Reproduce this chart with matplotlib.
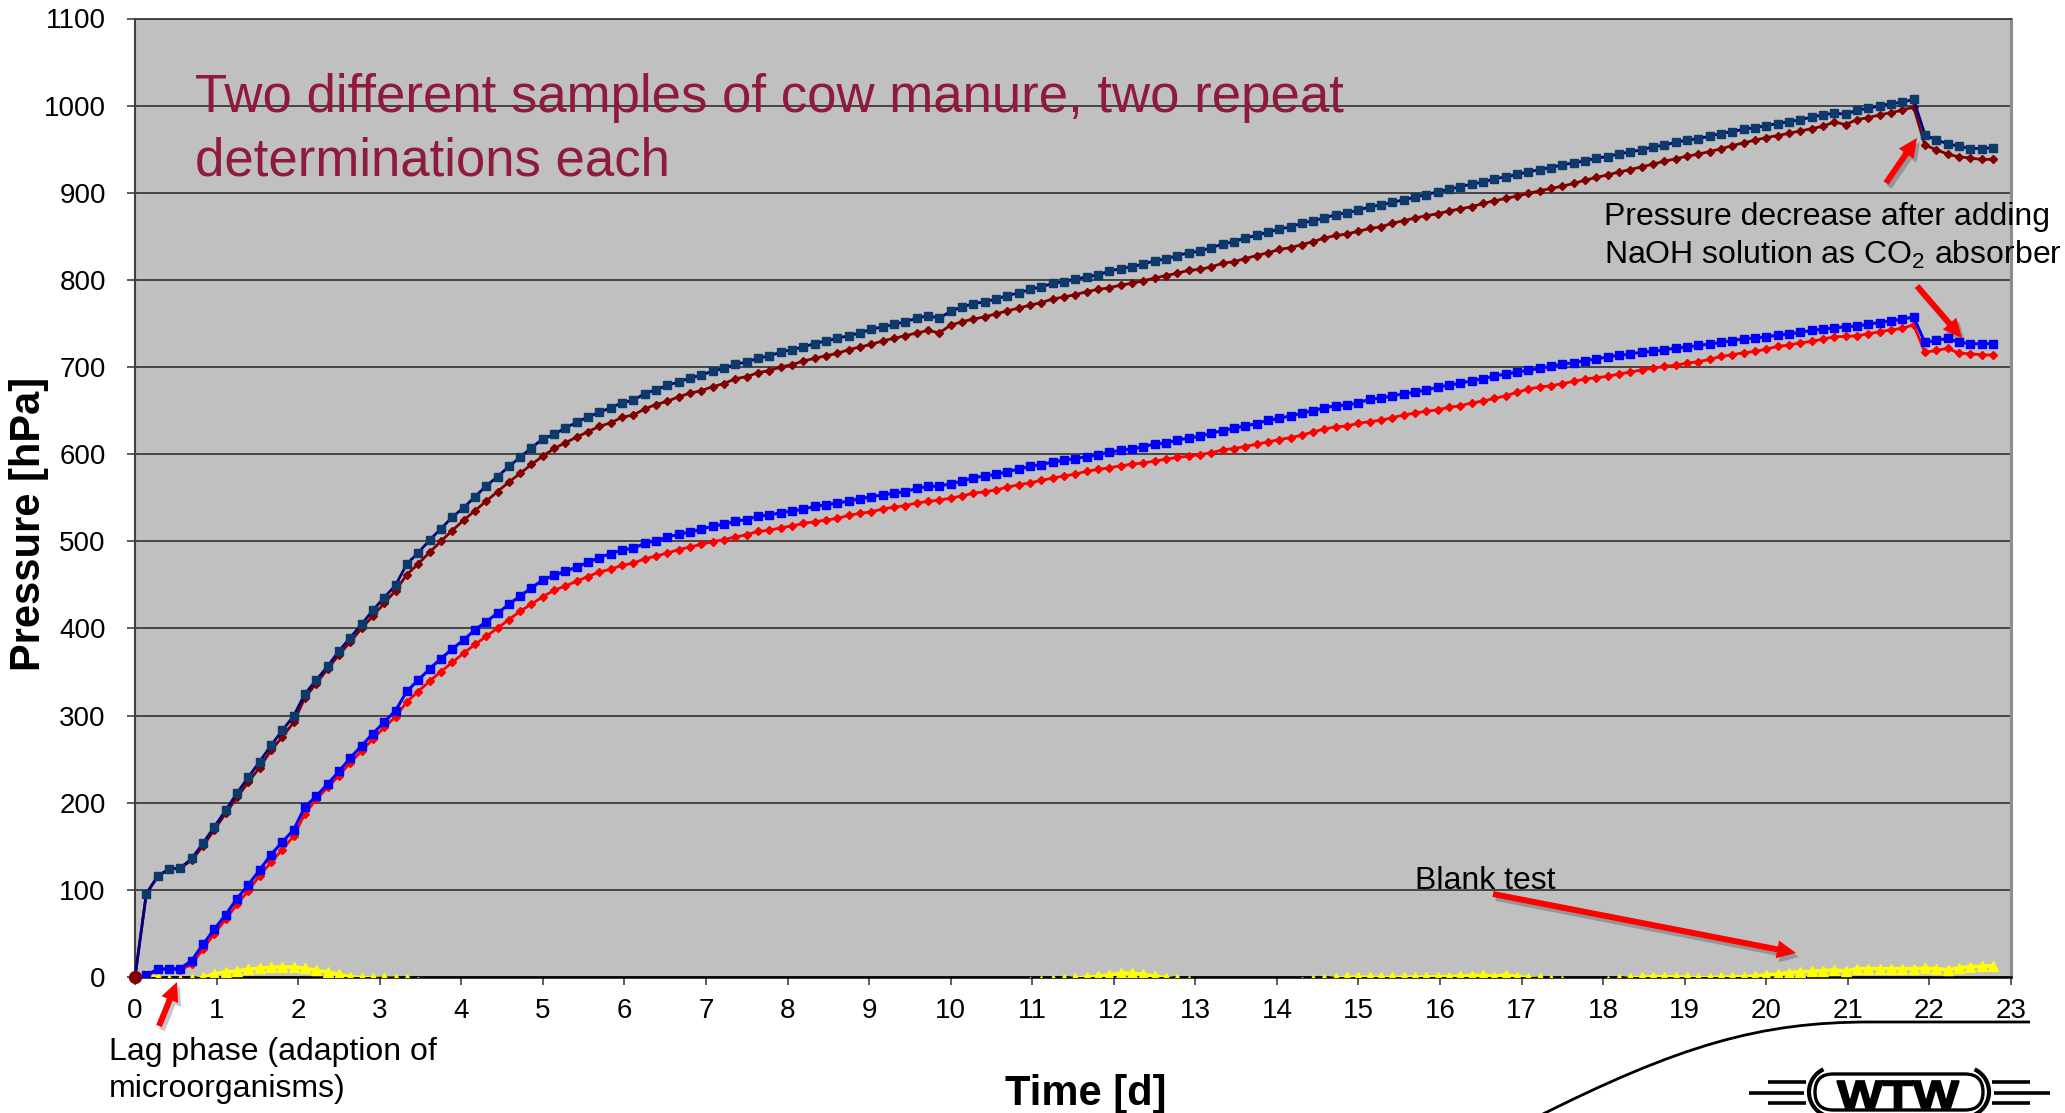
import numpy as np
import matplotlib
matplotlib.use('Agg')
import matplotlib.pyplot as plt
from matplotlib.patches import FancyArrow, FancyBboxPatch, Arc, PathPatch
from matplotlib.path import Path
from matplotlib.textpath import TextPath
from matplotlib.font_manager import FontProperties
from matplotlib.transforms import Affine2D

plt.rcParams['font.family'] = ['Liberation Sans', 'DejaVu Sans']
plt.rcParams['mathtext.fontset'] = 'custom'
plt.rcParams['mathtext.rm'] = 'Liberation Sans'
plt.rcParams['mathtext.it'] = 'Liberation Sans:italic'
plt.rcParams['mathtext.bf'] = 'Liberation Sans:bold'

# ---------------- data ----------------
readings_per_day = 7.2  # one reading every 3 h 20 min

# sample 1, determination 1 (navy squares)
sample1_rep1 = [
    0, 95.6, 115.4, 124.1, 125, 136, 153.5, 172.4, 191.2, 211, 229.4, 247, 265.8, 282.9, 299.6,
    325, 340.8, 356.6, 374.1, 389.5, 404.8, 421, 435.5, 449.6, 474.1, 486.8, 501.3, 514.5, 527.6,
    538.6, 550.9, 563.6, 574.1, 585.9, 596.5, 607.5, 617.5, 622.8, 630.3, 636.4, 643,
    648, 653.4, 659, 662, 669.5, 674, 679, 683, 687.6, 690.5, 695.5, 698.5, 703, 706, 710, 713,
    717, 720, 723, 727, 730, 733, 736, 739, 743.5, 746, 749, 752, 756, 759, 756, 764, 769, 772.5,
    775, 778, 782, 785, 789, 792, 796, 798, 801,
    803.4, 805.7, 810, 813, 815, 818, 822, 824, 828, 831, 833, 837, 841, 844, 848, 851, 855, 858,
    861, 865, 868, 871, 875, 877, 880, 884, 886, 889, 892, 895, 898, 901, 904, 907, 910,
    912.2, 916, 918.3, 921, 924, 926.7, 929, 932, 934.4, 936.6, 939.7, 941.6, 944.7, 947, 949.2,
    952.7, 954.6, 958, 960.3, 962.2, 964.9, 968, 970.2, 972.9, 974.8, 977.1, 979.4, 981.7, 983.6,
    987, 989.3, 991.6, 990, 994.7, 997, 999.6, 1002.3, 1003.8, 1007.3,
    966.8, 960.3, 956.5, 953.4, 950.8, 950.8, 951.5]

# sample 1, determination 2 (dark red)
sample1_rep2 = [
    0, 95.6, 115.4, 124.1, 125, 133.8, 150.4, 168.9, 187.7, 206, 223.7, 240.4, 260, 275.4,
    292.1, 320.6, 336.8, 353.5, 369.7, 384.6, 400, 414.5, 429, 443.4, 461.8, 474.1, 487.3, 500,
    512.3, 524.1, 535.1, 546, 557, 568, 578, 588.2, 597.8, 606.6, 613.2, 619.7, 625.9,
    632, 636, 642.4, 645, 652, 657, 660.7, 666, 670, 673, 677.5, 681, 686.6, 689, 693.5, 696, 700,
    702.7, 707, 710, 713, 715.6, 720, 723, 726, 730, 733, 736, 739, 742, 739.3, 748, 752, 755,
    757.6, 761, 764.5, 767.6, 771, 774, 778, 780.5, 783,
    786.6, 789, 791, 794, 796, 799, 802, 805, 807.6, 811, 812, 815, 819, 821, 824.4, 828, 831,
    835, 837, 840.5, 844, 848, 851, 852.7, 856, 859, 861, 865, 868, 871, 873.7, 876, 879, 881.7, 884,
    887.8, 890.8, 893.5, 896.2, 899.2, 902.3, 905, 907.6, 910.7, 914.5, 917.6, 920.6, 923.7, 926.7,
    929.8, 932.8, 936.3, 938.9, 942, 944.3, 947.3, 950.4, 954.2, 957.3, 960.3, 963.4, 965.6, 968.3,
    971, 973.7, 976.3, 981.3, 978.2, 984, 986.3, 989.3, 992, 994.7, 998.5,
    954.6, 949.6, 944.3, 941.2, 940, 938.2, 938.5]

# sample 2, determination 1 (blue squares)
sample2_rep1 = [
    0, 2.2, 8.8, 9.6, 9.6, 18.9, 37.3, 54.8, 71.5, 89.9, 105.7, 122.8, 140.4, 154.8, 168.9, 195.2,
    207.5, 221.5, 236, 251.3, 265.4, 279.4, 292.5, 305.7, 328, 340.8, 353.5, 365.4, 376.3, 386.8,
    398.2, 407.9, 417.5, 427.6, 437.3, 446.5, 455.7, 461, 465.4, 470.6, 475.9,
    481.3, 486, 490, 492, 497.7, 500.8, 505, 508, 510.7, 513.7, 517.6, 519.5, 523, 525, 529, 530,
    533, 534.7, 537, 540, 542, 544, 546, 549, 551, 553.4, 555, 557, 560.7, 563, 563.4, 566, 569,
    573, 574.8, 576.7, 580, 582.8, 586, 588, 591, 593, 595,
    597, 599.2, 602, 604.6, 606, 608.4, 611.8, 612.6, 616.4, 618.3, 620.6, 624, 627, 629.8, 632.4,
    635, 638.9, 641, 644, 647, 650, 653, 655.7, 656.5, 659, 663, 664.5, 666.8, 669.5, 671, 674,
    676.7, 679.4, 681.3, 684.4,
    686.6, 689.7, 692, 694.3, 696.2, 698.5, 700.8, 703.4, 705, 707.3, 709.2, 711.8, 713.4, 714.9,
    717.2, 718, 719.8, 721.8, 722.9, 724.8, 726.3, 728.2, 730.2, 732.4, 733.2, 734.7, 736.6, 738.2,
    739.7, 742, 743.5, 745, 746.2, 747, 749.2, 751.1, 753.1, 755, 757.3,
    728.2, 730.5, 732.8, 728.6, 726.7, 726.7, 726.7]

# sample 2, determination 2 (red)
sample2_rep2 = [
    0, 0, 8.8, 8.8, 7.9, 14.5, 32, 49.6, 66.2, 83.3, 99.1, 116.2, 131.6, 146.1, 161.8, 187.3, 204,
    217.5, 231.1, 246, 259.2, 273.2, 286.4, 298.7, 315.8, 327.6, 339.5, 350.4, 361, 371.5, 381.6,
    390.8, 400.4, 410.1, 419.7, 428.1, 436.4, 443.9, 448.7, 454.4, 459.6,
    464.9, 468, 472.5, 475, 480, 483, 486.6, 490.5, 493.5, 496.6, 499.6, 502, 505, 507.6, 511.5,
    512.6, 515.6, 517.6, 520.6, 522.5, 524.4, 526.3, 529.8, 532, 534, 537, 539.3, 541, 544, 545.8,
    547.3, 549.6, 552, 555.3, 556.9, 559, 562, 565, 567, 570, 572.5, 575, 577,
    580.5, 582.5, 584.4, 586.7, 588.5, 590, 592, 594.3, 596.2, 597.7, 599.6, 601.5, 605, 606.5,
    608.8, 611.5, 614, 616.8, 619, 621.8, 625.6, 629, 631.3, 632.4, 635.5, 637.4, 639, 642, 645,
    647.3, 649.2, 651.1, 653.8, 655.7, 658.8, 661, 664, 667, 671,
    674.8, 677.1, 678.6, 680.9, 683.6, 686.3, 687.8, 689.3, 692, 694.3, 696.6, 698.5, 700.8, 701.9,
    704.6, 706.1, 708.8, 712.2, 714.1, 716.4, 717.9, 720.6, 723.7, 725.2, 727.9, 729.4, 732.1,
    734.7, 735.1, 735.9, 738.2, 740.5, 742.7, 744.3, 748.5,
    716.8, 719.1, 721.4, 716, 715.3, 714.1, 713.7]

# blank test (yellow); negative readings fall below the axis and are hidden
blank = [
    0, 3, -1, -3, -3.5, -2.5, -0.5, 3.8, 5.7, 6.9, 8.8, 10.3, 11.1, 11.5, 11.5, 10, 7.7, 5.7, 3,
    0.3, -0.8, -1.2, -1.5, -1.8, -2.5,
    -6, -8, -10, -10.5, -11, -11, -11.5, -11, -11, -10.5,
    -10, -10, -9.5, -9.5, -9, -9, -9, -9.5, -10, -10,
    -10.5, -11, -11, -11, -11.5, -11.5, -11, -11, -10.5, -10.5,
    -10, -10, -9.5, -9.5, -9, -9, -9, -9.5, -10, -10,
    -10, -10, -9.5, -9.5, -9, -9, -8.5, -8.5, -8, -8,
    -8, -7.5, -7, -6.5, -6, -5, -4, -2.5,
    -1.2, -0.5, 0.8, 2.5, 4.2, 4.5, 3, 1, -0.8, -2.5,
    -5, -7, -9, -10, -10.5, -11, -11, -10.5, -9.5, -8, -6, -4,
    -2.5, -1.2, -0.5, -0.3, -0.3, -0.5, -0.5, -0.3,
    -0.3, 0, 0.3, 0.3, 1,
    1.5, 2, 0.5, 2.5, 0.5, -1, -1.5, -3,
    -5, -7, -8, -7, -5,
    -2.5, -1, -0.5, 0.3, 0.3, 0, -0.5, -1, -0.8, -0.3,
    0, 0.3, 0.8, 2.3, 3.4, 5, 6.1, 6.5, 7.3, 8, 6.5, 9.6, 9.6, 9.6, 9.6, 9.6, 9.6, 10, 9.6, 8.4,
    10.3, 11.9, 12.3, 13]

x_ticks = list(range(0, 24))
y_ticks = list(range(0, 1101, 100))

title_lines = ['Two different samples of cow manure, two repeat', 'determinations each']
note_naoh = ['Pressure decrease after adding', r'NaOH solution as CO$_2$ absorber']
note_blank = 'Blank test'
note_lag = ['Lag phase (adaption of', 'microorganisms)']

# ---------------- figure ----------------
W, H = 2065, 1113
fig = plt.figure(figsize=(W / 100, H / 100), dpi=100)
fig.patch.set_facecolor('white')

ax = fig.add_axes([135 / W, 1 - 977 / H, (2011 - 135) / W, (977 - 18.5) / H])
ax.set_facecolor('#C0C0C0')

t = np.arange(len(sample1_rep1)) / readings_per_day

ax.plot(t, blank, color='#FFFF00', lw=2.6, marker='^', ms=6.5, zorder=3)
ax.plot(t, sample2_rep2, color='#FF0000', lw=2.0, marker='D', ms=3.6, zorder=4)
ax.plot(t, sample2_rep1, color='#0000FF', lw=2.2, marker='s', ms=5.2, zorder=4)
ax.plot(t, sample1_rep2, color='#800000', lw=2.0, marker='D', ms=3.6, zorder=5)
ax.plot(t, sample1_rep1, color='#000080', lw=2.0, marker='s', ms=5.2,
        mfc='#0B3A6B', mec='#0B3A6B', zorder=5)
ax.plot(t[:1], sample1_rep2[:1], 'o', color='#800000', ms=8.5, clip_on=False, zorder=7)

ax.set_xlim(0, 23)
ax.set_ylim(0, 1100)
ax.set_xticks(x_ticks)
ax.set_yticks(y_ticks)
ax.yaxis.grid(True, color='#3C3C3C', lw=1.3)
ax.xaxis.grid(False)
ax.set_axisbelow(True)
ax.tick_params(axis='both', direction='out', length=6, width=1.2, labelsize=20,
               color='#404040', labelcolor='black')
ax.tick_params(axis='x', pad=9)
ax.tick_params(axis='y', pad=15)
ax.spines['left'].set_color('#404040')
ax.spines['left'].set_linewidth(1.5)
ax.spines['bottom'].set_color('black')
ax.spines['bottom'].set_linewidth(1.8)
ax.spines['top'].set_color('#3C3C3C')
ax.spines['top'].set_linewidth(1.3)
ax.spines['right'].set_color('#8C8C8C')
ax.spines['right'].set_linewidth(2.2)

# ---------------- overlay in pixel coordinates ----------------
ov = fig.add_axes([0, 0, 1, 1], zorder=10)
ov.set_xlim(0, W)
ov.set_ylim(H, 0)
ov.axis('off')
ov.patch.set_visible(False)

title_color = '#8E1A3C'
ov.text(195, 112, title_lines[0], fontsize=38, color=title_color, va='baseline')
ov.text(195, 175, title_lines[1], fontsize=38, color=title_color, va='baseline')

ov.text(1604, 225, note_naoh[0], fontsize=23, va='baseline')
ov.text(1604, 264, note_naoh[1], fontsize=23, va='baseline')
ov.text(1415, 889, note_blank, fontsize=23, va='baseline')
ov.text(109, 1060, note_lag[0], fontsize=23, va='baseline')
ov.text(109, 1097, note_lag[1], fontsize=23, va='baseline')

ov.text(29, 524, 'Pressure [hPa]', fontsize=30, fontweight='bold', rotation=90,
        ha='center', va='center')
ov.text(1086, 1105, 'Time [d]', fontsize=30, fontweight='bold', ha='center', va='baseline')


def red_arrow(x0, y0, x1, y1):
    dx, dy = x1 - x0, y1 - y0
    kw = dict(width=6, head_width=18, head_length=19, length_includes_head=True, lw=0)
    ov.add_patch(FancyArrow(x0 + 3, y0 + 4, dx, dy, color='black', alpha=0.22, **kw))
    ov.add_patch(FancyArrow(x0, y0, dx, dy, color='#FF0000', **kw))


red_arrow(159, 1026, 177, 982)
red_arrow(1886, 183, 1917, 138)
red_arrow(1917, 286, 1962, 338)
red_arrow(1493, 894, 1796, 953)

# WTW logo with swoosh
sw = Path([(1535, 1118), (1680, 1045), (1760, 1022), (1870, 1022), (2030, 1022)],
          [Path.MOVETO, Path.CURVE4, Path.CURVE4, Path.CURVE4, Path.LINETO])
ov.add_patch(PathPatch(sw, fill=False, lw=2.0, edgecolor='black'))

for (xa, xb, y) in [(1768, 1806, 1082), (1749, 1804, 1093), (1768, 1806, 1103),
                    (1992, 2030, 1082), (1994, 2050, 1093), (1992, 2030, 1103)]:
    ov.plot([xa, xb], [y, y], color='black', lw=2.6, solid_capstyle='butt')

ov.add_patch(Arc((1834, 1092), 50, 50, theta1=115, theta2=245, lw=3, color='black'))
ov.add_patch(Arc((1964, 1092), 50, 50, theta1=-65, theta2=65, lw=3, color='black'))
ov.add_patch(FancyBboxPatch((1815, 1074), 168, 36, boxstyle='round,pad=0,rounding_size=18',
                            fc='white', ec='black', lw=2.4))

tp = TextPath((0, 0), 'WTW', size=100, prop=FontProperties(family='Liberation Sans', weight='bold'))
bb = tp.get_extents()
sx, sy = 122 / bb.width, 27 / bb.height
tr = Affine2D().translate(-bb.x0, -bb.y0).scale(sx, -sy).translate(1837, 1108)
ov.add_patch(PathPatch(tr.transform_path(tp), fc='black', ec='black', lw=1.2))

fig.savefig('out.png', dpi=100)
